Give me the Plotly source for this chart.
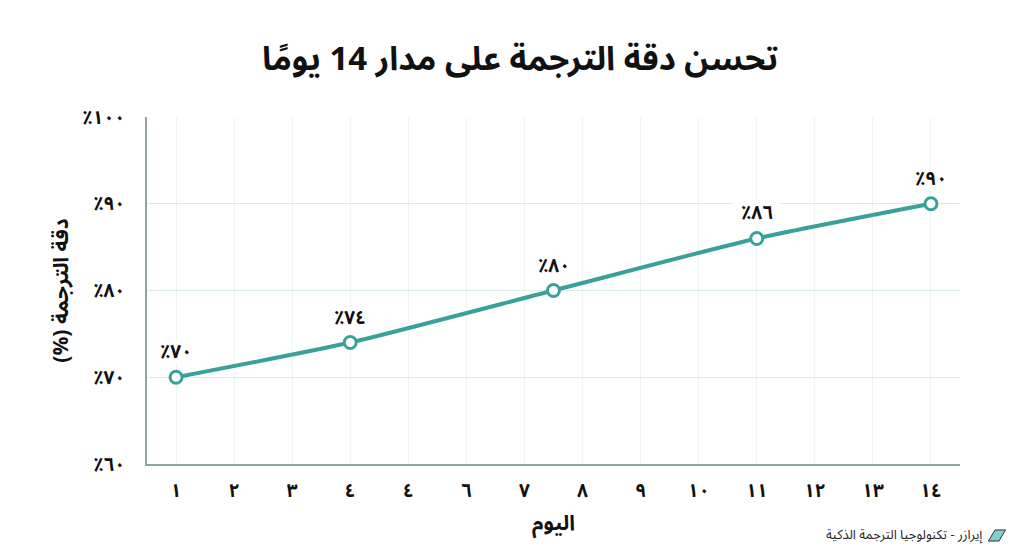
import plotly.graph_objects as go

# data
days = [1, 4, 7.5, 11, 14]
accuracy = [70, 74, 80, 86, 90]
point_labels = ["٪٧٠", "٪٧٤", "٪٨٠", "٪٨٦", "٪٩٠"]

x_ticks = list(range(1, 15))
x_ticktext = ["١", "٢", "٣", "٤", "٤", "٦", "٧", "٨", "٩", "١٠", "١١", "١٢", "١٣", "١٤"]
y_ticks = [60, 70, 80, 90, 100]
y_ticktext = ["٪٦٠", "٪٧٠", "٪٨٠", "٪٩٠", "٪١٠٠"]

teal = "#3aa19a"
font_family = "Noto Sans Arabic, Noto Sans, DejaVu Sans, sans-serif"

fig = go.Figure()

fig.add_trace(go.Scatter(
    x=days, y=accuracy,
    mode="lines+markers",
    line=dict(color=teal, width=4, shape="spline", smoothing=0.6),
    marker=dict(size=12, color="white", line=dict(color=teal, width=3)),
    hoverinfo="skip",
    showlegend=False,
))

# value labels; white patch behind each one sits above the grid but under the line
for d, v, t in zip(days, accuracy, point_labels):
    fig.add_shape(
        type="rect", xref="x", yref="y", xsizemode="pixel", ysizemode="pixel",
        xanchor=d, yanchor=v, x0=-24, x1=24, y0=14, y1=36,
        fillcolor="white", line=dict(width=0), layer="between",
    )
    fig.add_annotation(
        x=d, y=v, text=t, showarrow=False, yshift=25,
        font=dict(size=19, color="#111", family=font_family, weight="bold"),
    )

fig.update_xaxes(
    range=[0.5, 14.5],
    tickmode="array", tickvals=x_ticks, ticktext=x_ticktext,
    showgrid=True, gridcolor="#eef5f5", gridwidth=1,
    showline=True, linecolor="#8fa3a3", linewidth=2,
    ticks="", ticklabelstandoff=8,
    tickfont=dict(size=19, color="#111", family=font_family, weight="bold"),
    title=dict(text="اليوم", font=dict(size=21, color="#111", family=font_family, weight="bold"), standoff=6),
    zeroline=False,
)
fig.update_yaxes(
    range=[60, 100],
    tickmode="array", tickvals=y_ticks, ticktext=y_ticktext,
    showgrid=True, gridcolor="#dcecec", gridwidth=1,
    showline=True, linecolor="#8fa3a3", linewidth=2,
    ticks="", ticklabelstandoff=16,
    tickfont=dict(size=19, color="#111", family=font_family, weight="bold"),
    title=dict(text="دقة الترجمة (%)\u200f", font=dict(size=21, color="#111", family=font_family, weight="bold"), standoff=8),
    zeroline=False,
)

# footer credit with a small eraser icon
fig.add_annotation(
    xref="paper", yref="paper", x=1.031, y=-0.205, xanchor="right", yanchor="middle",
    text="إيرازر - تكنولوجيا الترجمة الذكية", showarrow=False,
    font=dict(size=13, color="#222", family=font_family),
)
fig.add_shape(
    type="path", xref="paper", yref="paper",
    path="M 1.035 -0.222 L 1.043 -0.19 L 1.056 -0.19 L 1.048 -0.222 Z",
    fillcolor="#7fd0c8", line=dict(color="#333", width=1),
)

fig.update_layout(
    width=1024, height=559,
    title=dict(
        text="<b>تحسن دقة الترجمة على مدار 14 يومًا</b>",
        x=0.5, xanchor="center", y=0.91, yanchor="middle",
        font=dict(size=33, color="#111", family=font_family),
    ),
    plot_bgcolor="white", paper_bgcolor="white",
    margin=dict(l=139, r=72, t=109, b=103),
)

fig.write_html("out.html")
